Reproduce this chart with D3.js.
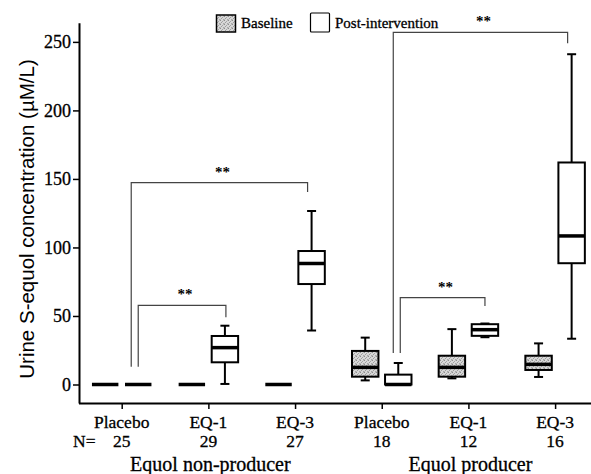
<!DOCTYPE html>
<html>
<head>
<meta charset="utf-8">
<script src="https://cdn.jsdelivr.net/npm/d3@7"></script>
<style>
  html, body { margin: 0; padding: 0; background: #fff; }
  svg { display: block; }
</style>
</head>
<body>
<div id="chart"></div>
<script>
// ---------------- DATA ----------------
const categoryLabels = ["Placebo", "EQ-1", "EQ-3", "Placebo", "EQ-1", "EQ-3"];
const categoryGroup  = [0, 0, 0, 1, 1, 1];
const nValues        = [25, 29, 27, 18, 12, 16];
const groupLabels    = ["Equol non-producer", "Equol producer"];
const seriesNames    = ["Baseline", "Post-intervention"];
const yTicks         = [0, 50, 100, 150, 200, 250];

// box stats per category: [lower whisker, Q1, median, Q3, upper whisker]  (µM/L)
const baselineStats = [
  [0, 0, 0, 0, 0],
  [0, 0, 0, 0, 0],
  [0, 0, 0, 0, 0],
  [3, 5.7, 12.5, 24.5, 34.2],
  [4.5, 5.7, 12.5, 21, 40.4],
  [5.5, 10.6, 14.7, 21, 30]
];
const postStats = [
  [0, 0, 0, 0, 0],
  [0.4, 16.2, 26.9, 35.4, 42.9],
  [39.4, 73.3, 88.3, 97.4, 126.6],
  [0, 0, 0, 7.2, 15.7],
  [34.5, 35.5, 40, 44, 44.5],
  [33.4, 88.5, 108.4, 162, 241]
];

// significance brackets (between post-intervention boxes), y in µM/L
const bracketFrom  = [0, 0, 3, 3];
const bracketTo    = [1, 2, 5, 4];
const bracketTop   = [57.8, 147.3, 257, 63.4];
const bracketFromY = [13, 13, 23, 23];
const bracketToY   = [49, 140.5, 249, 57.3];
const bracketText  = ["**", "**", "**", "**"];

// ---------------- LAYOUT ----------------
const W = 591, H = 474;
const svg = d3.select("#chart").append("svg")
  .attr("width", W).attr("height", H)
  .attr("viewBox", `0 0 ${W} ${H}`);

const serif = "'Liberation Serif','Times New Roman',Times,serif";
const sans  = "'Liberation Sans',Arial,Helvetica,sans-serif";

const defs = svg.append("defs");
const pat = defs.append("pattern")
  .attr("id", "stipple").attr("patternUnits", "userSpaceOnUse")
  .attr("width", 4).attr("height", 4);
pat.append("rect").attr("width", 4).attr("height", 4).attr("fill", "#d8d8d8");
[[0, 0, "#8e8e8e"], [2, 1, "#a4a4a4"], [1, 2, "#9c9c9c"], [3, 3, "#a8a8a8"], [3, 0, "#bdbdbd"], [0, 3, "#bababa"]]
  .forEach(([px, py, c]) => pat.append("rect").attr("x", px).attr("y", py)
    .attr("width", 1).attr("height", 1).attr("fill", c));

const axisX0 = 79, axisY0 = 403;
const y = d3.scaleLinear().domain([-13.5, 264]).range([axisY0, 22.7]);
const x = d3.scalePoint().domain(d3.range(categoryLabels.length)).range([121.7, 555.1]);
const inner = d3.scaleBand().domain(seriesNames).range([-29.75, 29.75]).paddingInner(0.2);
const bw = inner.bandwidth();
const cx = (i, s) => x(i) + inner(s) + bw / 2;

// ---------------- AXES ----------------
const yAxis = svg.append("g")
  .attr("transform", `translate(${axisX0},0)`)
  .call(d3.axisLeft(y).tickValues(yTicks).tickSize(6).tickSizeOuter(0).tickPadding(2));
yAxis.select(".domain").attr("stroke", "#000").attr("stroke-width", 2);
yAxis.selectAll(".tick line").attr("stroke", "#000").attr("stroke-width", 1.5);
yAxis.selectAll(".tick text").attr("font-family", serif).attr("font-size", 18).attr("fill", "#000")
  .attr("stroke", "#000").attr("stroke-width", 0.3);

const xAxis = svg.append("g")
  .attr("transform", `translate(0,${axisY0})`)
  .call(d3.axisBottom(x).tickSize(6).tickSizeOuter(0).tickFormat(""));
xAxis.select(".domain").attr("d", `M${axisX0},0.5H${W}`).attr("stroke", "#000").attr("stroke-width", 2);
xAxis.selectAll(".tick line").attr("stroke", "#000").attr("stroke-width", 1.5);

// category labels and N
const labG = svg.append("g").attr("font-family", serif).attr("fill", "#000")
  .attr("stroke", "#000").attr("stroke-width", 0.3);
labG.selectAll("text.cat").data(categoryLabels).join("text")
  .attr("class", "cat")
  .attr("x", (d, i) => x(i)).attr("y", 427.5)
  .attr("text-anchor", "middle").attr("font-size", 17.5).text(d => d);
labG.selectAll("text.n").data(nValues).join("text")
  .attr("class", "n")
  .attr("x", (d, i) => x(i)).attr("y", 447)
  .attr("text-anchor", "middle").attr("font-size", 17.5).text(d => d);
labG.append("text").attr("x", 73).attr("y", 447).attr("font-size", 17.5).text("N=");
labG.selectAll("text.grp").data(groupLabels).join("text")
  .attr("class", "grp")
  .attr("x", (d, g) => d3.mean(d3.range(categoryLabels.length).filter(i => categoryGroup[i] === g), i => x(i)) + 2)
  .attr("y", 471)
  .attr("text-anchor", "middle").attr("font-size", 20).text(d => d);

// y title
svg.append("text")
  .attr("transform", "translate(33.5,219) rotate(-90)")
  .attr("text-anchor", "middle")
  .attr("font-family", sans).attr("font-size", 20.5).attr("fill", "#000")
  .text("Urine S-equol concentration (\u00B5M/L)");

// ---------------- BRACKETS ----------------
const bracketDx = [[0, 1], [-7, -4], [-5, -4], [2, 0]];
const brG = svg.append("g");
bracketFrom.forEach((f, k) => {
  const x1 = cx(f, seriesNames[1]) + bracketDx[k][0];
  const x2 = cx(bracketTo[k], seriesNames[1]) + bracketDx[k][1];
  const yt = y(bracketTop[k]);
  brG.append("path")
    .attr("d", `M${x1},${y(bracketFromY[k])}V${yt}H${x2}V${y(bracketToY[k])}`)
    .attr("fill", "none").attr("stroke", "#444").attr("stroke-width", 1.2);
  brG.append("text")
    .attr("x", (x1 + x2) / 2 + 3).attr("y", yt - 6)
    .attr("text-anchor", "middle")
    .attr("font-family", serif).attr("font-size", 15).attr("font-weight", "bold")
    .attr("fill", "#000").text(bracketText[k]);
});

// ---------------- BOXES ----------------
function drawBoxes(stats, s, fill) {
  const g = svg.append("g");
  stats.forEach((st, i) => {
    const c = cx(i, s);
    const [lo, q1, med, q3, hi] = st;
    const cap = 4.5;
    if (hi > q3) {
      g.append("line").attr("x1", c).attr("x2", c).attr("y1", y(q3)).attr("y2", y(hi))
        .attr("stroke", "#000").attr("stroke-width", 2);
      g.append("line").attr("x1", c - cap).attr("x2", c + cap).attr("y1", y(hi)).attr("y2", y(hi))
        .attr("stroke", "#000").attr("stroke-width", 2);
    }
    if (lo < q1) {
      g.append("line").attr("x1", c).attr("x2", c).attr("y1", y(q1)).attr("y2", y(lo))
        .attr("stroke", "#000").attr("stroke-width", 2);
      g.append("line").attr("x1", c - cap).attr("x2", c + cap).attr("y1", y(lo)).attr("y2", y(lo))
        .attr("stroke", "#000").attr("stroke-width", 2);
    }
    g.append("rect")
      .attr("x", c - bw / 2).attr("y", y(q3))
      .attr("width", bw).attr("height", Math.max(0, y(q1) - y(q3)))
      .attr("fill", fill).attr("stroke", "#000").attr("stroke-width", 2);
    g.append("line").attr("x1", c - bw / 2).attr("x2", c + bw / 2)
      .attr("y1", y(med)).attr("y2", y(med))
      .attr("stroke", "#000").attr("stroke-width", 3.5);
  });
}
drawBoxes(baselineStats, seriesNames[0], "url(#stipple)");
drawBoxes(postStats, seriesNames[1], "#fff");

// ---------------- LEGEND ----------------
const leg = svg.append("g").attr("font-family", serif).attr("font-size", 15).attr("fill", "#000")
  .attr("stroke", "#000").attr("stroke-width", 0.3);
leg.append("rect").attr("x", 216.5).attr("y", 15).attr("width", 19).attr("height", 17)
  .attr("fill", "url(#stipple)").attr("stroke", "#000").attr("stroke-width", 1.5);
leg.append("text").attr("x", 241).attr("y", 28).text(seriesNames[0]);
leg.append("rect").attr("x", 310.5).attr("y", 13).attr("width", 19).attr("height", 19)
  .attr("fill", "#fff").attr("stroke", "#000").attr("stroke-width", 1.2).attr("rx", 1);
leg.append("text").attr("x", 335).attr("y", 28).text(seriesNames[1]);
</script>
</body>
</html>
